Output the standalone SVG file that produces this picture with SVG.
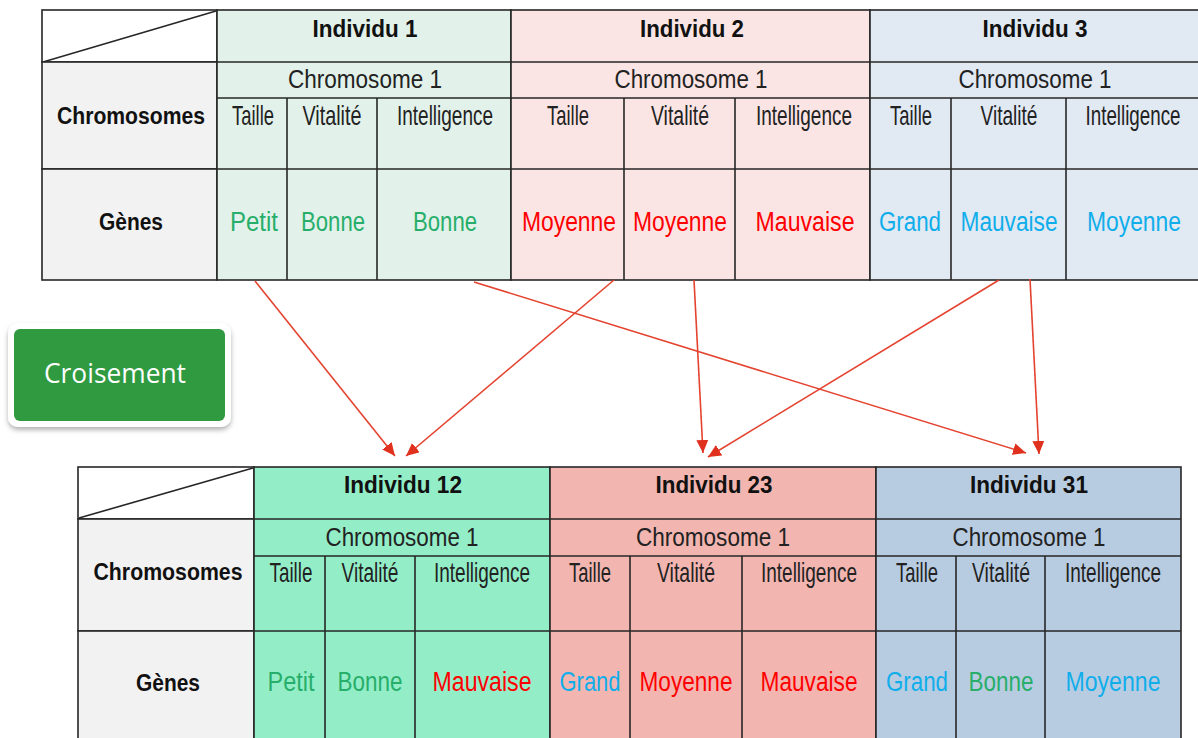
<svg xmlns="http://www.w3.org/2000/svg" width="1198" height="738" viewBox="0 0 1198 738">
<style>
.b{stroke:#262626;stroke-width:1.6;}
.ln{stroke:#262626;stroke-width:1.6;fill:none;}
.h{font-family:"Liberation Sans",Arial,sans-serif;font-weight:bold;font-size:23px;fill:#111;text-anchor:middle;}
.c{font-family:"Liberation Sans",Arial,sans-serif;font-size:25px;fill:#222;text-anchor:middle;}
.s{font-family:"Liberation Sans",Arial,sans-serif;font-size:28px;fill:#222;text-anchor:middle;}
.g{font-family:"Liberation Sans",Arial,sans-serif;font-size:27px;text-anchor:middle;}
.gr{fill:#27AE6A;}
.rd{fill:#FF0000;}
.bl{fill:#0FAEEB;}
.lbl{fill:#F2F2F2;}
.arr{stroke:#E4432F;stroke-width:1.6;fill:none;marker-end:url(#ah);}
</style>
<defs>
<marker id="ah" markerUnits="userSpaceOnUse" markerWidth="14" markerHeight="12" refX="13" refY="6" orient="auto">
<path d="M0,0 L13,6 L0,12 Z" fill="#E0301E"/>
</marker>
<filter id="sh" x="-10%" y="-10%" width="120%" height="130%">
<feDropShadow dx="0" dy="3" stdDeviation="2.5" flood-color="#000" flood-opacity="0.3"/>
</filter>
</defs>
<rect width="1198" height="738" fill="#fff"/>

<!-- TOP TABLE -->
<g id="top-labels">
<rect x="42" y="10" width="175" height="52" fill="#fff" class="b"/>
<line x1="43" y1="62" x2="216" y2="11" class="ln"/>
<rect x="42" y="62" width="175" height="107" class="lbl b"/>
<rect x="42" y="169" width="175" height="111" class="lbl b"/>
<text x="131" y="124" class="h" textLength="148" lengthAdjust="spacingAndGlyphs">Chromosomes</text>
<text x="131" y="230" class="h" textLength="64" lengthAdjust="spacingAndGlyphs">Gènes</text>
</g>

<g id="individu-1">
<rect x="217" y="10" width="294" height="270" fill="#E2F2EA" class="b"/>
<line x1="217" y1="62" x2="511" y2="62" class="ln"/>
<line x1="217" y1="98" x2="511" y2="98" class="ln"/>
<line x1="217" y1="169" x2="511" y2="169" class="ln"/>
<line x1="287" y1="98" x2="287" y2="280" class="ln"/>
<line x1="377" y1="98" x2="377" y2="280" class="ln"/>
<text x="365" y="37" class="h" textLength="105" lengthAdjust="spacingAndGlyphs">Individu 1</text>
<text x="365" y="88" class="c" textLength="154" lengthAdjust="spacingAndGlyphs">Chromosome 1</text>
<text x="253" y="125" class="s" textLength="42" lengthAdjust="spacingAndGlyphs">Taille</text>
<text x="332" y="125" class="s" textLength="59" lengthAdjust="spacingAndGlyphs">Vitalité</text>
<text x="445" y="125" class="s" textLength="96" lengthAdjust="spacingAndGlyphs">Intelligence</text>
<text x="254" y="231" class="g gr" textLength="48" lengthAdjust="spacingAndGlyphs">Petit</text>
<text x="333" y="231" class="g gr" textLength="64" lengthAdjust="spacingAndGlyphs">Bonne</text>
<text x="445" y="231" class="g gr" textLength="64" lengthAdjust="spacingAndGlyphs">Bonne</text>
</g>

<g id="individu-2">
<rect x="511" y="10" width="359" height="270" fill="#FBE5E4" class="b"/>
<line x1="511" y1="62" x2="870" y2="62" class="ln"/>
<line x1="511" y1="98" x2="870" y2="98" class="ln"/>
<line x1="511" y1="169" x2="870" y2="169" class="ln"/>
<line x1="624" y1="98" x2="624" y2="280" class="ln"/>
<line x1="735" y1="98" x2="735" y2="280" class="ln"/>
<text x="692" y="37" class="h" textLength="104" lengthAdjust="spacingAndGlyphs">Individu 2</text>
<text x="691" y="88" class="c" textLength="153" lengthAdjust="spacingAndGlyphs">Chromosome 1</text>
<text x="568" y="125" class="s" textLength="42" lengthAdjust="spacingAndGlyphs">Taille</text>
<text x="680" y="125" class="s" textLength="58" lengthAdjust="spacingAndGlyphs">Vitalité</text>
<text x="804" y="125" class="s" textLength="96" lengthAdjust="spacingAndGlyphs">Intelligence</text>
<text x="569" y="231" class="g rd" textLength="94" lengthAdjust="spacingAndGlyphs">Moyenne</text>
<text x="680" y="231" class="g rd" textLength="94" lengthAdjust="spacingAndGlyphs">Moyenne</text>
<text x="805" y="231" class="g rd" textLength="99" lengthAdjust="spacingAndGlyphs">Mauvaise</text>
</g>

<g id="individu-3">
<rect x="870" y="10" width="340" height="270" fill="#E1E9F3" class="b"/>
<line x1="870" y1="62" x2="1198" y2="62" class="ln"/>
<line x1="870" y1="98" x2="1198" y2="98" class="ln"/>
<line x1="870" y1="169" x2="1198" y2="169" class="ln"/>
<line x1="951" y1="98" x2="951" y2="280" class="ln"/>
<line x1="1066" y1="98" x2="1066" y2="280" class="ln"/>
<text x="1035" y="37" class="h" textLength="105" lengthAdjust="spacingAndGlyphs">Individu 3</text>
<text x="1035" y="88" class="c" textLength="153" lengthAdjust="spacingAndGlyphs">Chromosome 1</text>
<text x="911" y="125" class="s" textLength="42" lengthAdjust="spacingAndGlyphs">Taille</text>
<text x="1009" y="125" class="s" textLength="57" lengthAdjust="spacingAndGlyphs">Vitalité</text>
<text x="1133" y="125" class="s" textLength="95" lengthAdjust="spacingAndGlyphs">Intelligence</text>
<text x="910" y="231" class="g bl" textLength="62" lengthAdjust="spacingAndGlyphs">Grand</text>
<text x="1009" y="231" class="g bl" textLength="97" lengthAdjust="spacingAndGlyphs">Mauvaise</text>
<text x="1134" y="231" class="g bl" textLength="94" lengthAdjust="spacingAndGlyphs">Moyenne</text>
</g>

<!-- BUTTON -->
<g id="croisement">
<rect x="8" y="323" width="223" height="104" rx="10" fill="#fff" filter="url(#sh)"/>
<rect x="14" y="329" width="211" height="92" rx="6" fill="#2F9A3F"/>
<text x="115" y="383" font-family="'Open Sans','Noto Sans',sans-serif" font-size="27" fill="#fff" text-anchor="middle" textLength="142" lengthAdjust="spacingAndGlyphs">Croisement</text>
</g>

<!-- BOTTOM TABLE -->
<g id="bottom-labels">
<rect x="78" y="467" width="176" height="52" fill="#fff" class="b"/>
<line x1="79" y1="518" x2="253" y2="468" class="ln"/>
<rect x="78" y="519" width="176" height="112" class="lbl b"/>
<rect x="78" y="631" width="176" height="120" class="lbl b"/>
<text x="168" y="580" class="h" textLength="149" lengthAdjust="spacingAndGlyphs">Chromosomes</text>
<text x="168" y="691" class="h" textLength="64" lengthAdjust="spacingAndGlyphs">Gènes</text>
</g>

<g id="individu-12">
<rect x="254" y="467" width="296" height="284" fill="#93EEC8" class="b"/>
<line x1="254" y1="519" x2="550" y2="519" class="ln"/>
<line x1="254" y1="556" x2="550" y2="556" class="ln"/>
<line x1="254" y1="631" x2="550" y2="631" class="ln"/>
<line x1="325" y1="556" x2="325" y2="751" class="ln"/>
<line x1="415" y1="556" x2="415" y2="751" class="ln"/>
<text x="403" y="493" class="h" textLength="118" lengthAdjust="spacingAndGlyphs">Individu 12</text>
<text x="402" y="546" class="c" textLength="153" lengthAdjust="spacingAndGlyphs">Chromosome 1</text>
<text x="291" y="582" class="s" textLength="43" lengthAdjust="spacingAndGlyphs">Taille</text>
<text x="370" y="582" class="s" textLength="57" lengthAdjust="spacingAndGlyphs">Vitalité</text>
<text x="482" y="582" class="s" textLength="96" lengthAdjust="spacingAndGlyphs">Intelligence</text>
<text x="291" y="691" class="g gr" textLength="47" lengthAdjust="spacingAndGlyphs">Petit</text>
<text x="370" y="691" class="g gr" textLength="65" lengthAdjust="spacingAndGlyphs">Bonne</text>
<text x="482" y="691" class="g rd" textLength="99" lengthAdjust="spacingAndGlyphs">Mauvaise</text>
</g>

<g id="individu-23">
<rect x="550" y="467" width="326" height="284" fill="#F2B5B0" class="b"/>
<line x1="550" y1="519" x2="876" y2="519" class="ln"/>
<line x1="550" y1="556" x2="876" y2="556" class="ln"/>
<line x1="550" y1="631" x2="876" y2="631" class="ln"/>
<line x1="630" y1="556" x2="630" y2="751" class="ln"/>
<line x1="742" y1="556" x2="742" y2="751" class="ln"/>
<text x="714" y="493" class="h" textLength="117" lengthAdjust="spacingAndGlyphs">Individu 23</text>
<text x="713" y="546" class="c" textLength="154" lengthAdjust="spacingAndGlyphs">Chromosome 1</text>
<text x="590" y="582" class="s" textLength="42" lengthAdjust="spacingAndGlyphs">Taille</text>
<text x="686" y="582" class="s" textLength="58" lengthAdjust="spacingAndGlyphs">Vitalité</text>
<text x="809" y="582" class="s" textLength="96" lengthAdjust="spacingAndGlyphs">Intelligence</text>
<text x="590" y="691" class="g bl" textLength="61" lengthAdjust="spacingAndGlyphs">Grand</text>
<text x="686" y="691" class="g rd" textLength="93" lengthAdjust="spacingAndGlyphs">Moyenne</text>
<text x="809" y="691" class="g rd" textLength="97" lengthAdjust="spacingAndGlyphs">Mauvaise</text>
</g>

<g id="individu-31">
<rect x="876" y="467" width="305" height="284" fill="#B8CCE1" class="b"/>
<line x1="876" y1="519" x2="1181" y2="519" class="ln"/>
<line x1="876" y1="556" x2="1181" y2="556" class="ln"/>
<line x1="876" y1="631" x2="1181" y2="631" class="ln"/>
<line x1="956" y1="556" x2="956" y2="751" class="ln"/>
<line x1="1045" y1="556" x2="1045" y2="751" class="ln"/>
<text x="1029" y="493" class="h" textLength="118" lengthAdjust="spacingAndGlyphs">Individu 31</text>
<text x="1029" y="546" class="c" textLength="153" lengthAdjust="spacingAndGlyphs">Chromosome 1</text>
<text x="917" y="582" class="s" textLength="42" lengthAdjust="spacingAndGlyphs">Taille</text>
<text x="1001" y="582" class="s" textLength="58" lengthAdjust="spacingAndGlyphs">Vitalité</text>
<text x="1113" y="582" class="s" textLength="96" lengthAdjust="spacingAndGlyphs">Intelligence</text>
<text x="917" y="691" class="g bl" textLength="62" lengthAdjust="spacingAndGlyphs">Grand</text>
<text x="1001" y="691" class="g gr" textLength="65" lengthAdjust="spacingAndGlyphs">Bonne</text>
<text x="1113" y="691" class="g bl" textLength="95" lengthAdjust="spacingAndGlyphs">Moyenne</text>
</g>

<!-- CONNECTORS -->
<g id="connectors">
<line x1="255" y1="281" x2="395" y2="456" class="arr"/>
<line x1="614" y1="280" x2="406" y2="456" class="arr"/>
<line x1="474" y1="282" x2="1026" y2="453" class="arr"/>
<line x1="694" y1="280" x2="703" y2="453" class="arr"/>
<line x1="999" y1="280" x2="708" y2="457" class="arr"/>
<line x1="1030" y1="279" x2="1039" y2="454" class="arr"/>
</g>
</svg>
